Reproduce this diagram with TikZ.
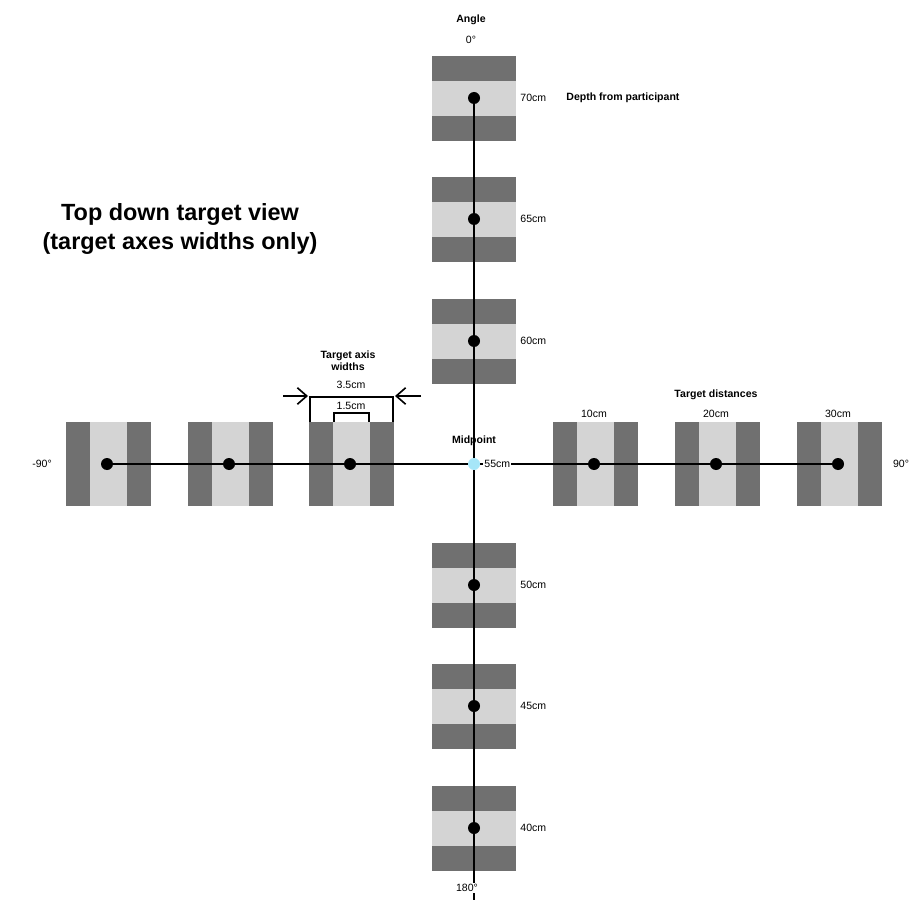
\documentclass[tikz,border=0pt]{standalone}
\usepackage{fontspec}
\setmainfont{Liberation Sans}
\usetikzlibrary{arrows.meta}
\definecolor{darkband}{HTML}{707070}
\definecolor{lightband}{HTML}{D4D4D4}
\definecolor{midblue}{HTML}{A6E6F8}
\tikzset{
  lbl/.style={font=\fontsize{9}{10}\selectfont,inner sep=1pt},
  head/.style={font=\fontsize{9}{10}\selectfont\bfseries,inner sep=1pt},
  dot/.style={circle,fill=black,inner sep=0pt,minimum size=12*0.03cm},
  axis/.style={line width=2.2pt}
}
\begin{document}
\begin{tikzpicture}[x=0.03cm,y=-0.03cm]
  \useasboundingbox (0,0) rectangle (918,900);
  % targets along depth
  \foreach \y/\d in {98/70,219/65,341/60,585/50,706/45,828/40}{
    \fill[darkband] (432,\y-42) rectangle (516,\y+43);
    \fill[lightband] (432,\y-17) rectangle (516,\y+18);
    \node[lbl,anchor=west] (d\d) at (519,\y) {\d cm};
  }
  % targets along angle
  \foreach \x/\n in {107/l3,229/l2,350/l1,594/r1,716/r2,838/r3}{
    \fill[darkband] (\x-41,422) rectangle (\x+44,506);
    \fill[lightband] (\x-17,422) rectangle (\x+20,506);
  }
  % axes
  \coordinate (top) at (474,98);
  \coordinate (bottom) at (474,900);
  \coordinate (left) at (107,464);
  \coordinate (right) at (838,464);
  \draw[axis] (top) -- (bottom);
  \draw[axis] (left) -- (right);
  % dots
  \foreach \y in {98,219,341,585,706,828}
    \node[dot] at (474,\y) {};
  \foreach \x in {107,229,350,594,716,838}
    \node[dot] at (\x,464) {};
  \node[circle,fill=midblue,inner sep=0pt,minimum size=12*0.03cm] (mid) at (474,464) {};
  \node[lbl,anchor=west,fill=white] (d55) at (483,464) {55cm};
  % labels
  \node[head] (angle) at (471,20) {Angle};
  \node[lbl] (a0) at (471,40) {0°};
  \node[lbl,fill=white] (a180) at (467,888) {180°};
  \node[lbl] (am90) at (42,464) {-90°};
  \node[lbl] (a90) at (901,464) {90°};
  \node[head] (midlbl) at (474,441) {Midpoint};
  \node[head,anchor=west] (depth) at (565,98) {Depth from participant};
  \node[head] (dist) at (716,395) {Target distances};
  \node[lbl] (t10) at (594,414) {10cm};
  \node[lbl] (t20) at (716,414) {20cm};
  \node[lbl] (t30) at (838,414) {30cm};
  \node[head,align=center] (widths) at (348,361) {Target axis\\widths};
  \node[lbl] (w35) at (351,385) {3.5cm};
  \node[lbl] (w15) at (351,406) {1.5cm};
  \node[font=\fontsize{20}{24}\selectfont\bfseries,align=center] (title) at (180,229)
    {Top down target view\\(target axes widths only)};
  % width brackets
  \draw[line width=1.6pt] (310,422) -- (310,397) -- (393,397) -- (393,422);
  \draw[line width=1.6pt] (334,422) -- (334,413) -- (369,413) -- (369,422);
  \coordinate (al) at (283,396);
  \coordinate (ar) at (421,396);
  \draw[line width=1.4pt,-{Straight Barb[length=8pt,width=14pt]}] (al) -- (308,396);
  \draw[line width=1.4pt,-{Straight Barb[length=8pt,width=14pt]}] (ar) -- (395,396);
\end{tikzpicture}
\end{document}
